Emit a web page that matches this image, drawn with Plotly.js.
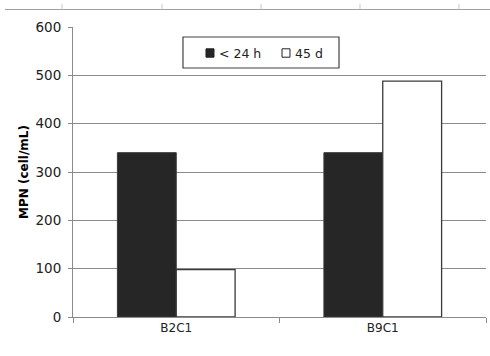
<!DOCTYPE html>
<html>
<head>
<meta charset="utf-8">
<script src="https://cdn.plot.ly/plotly-3.0.1.min.js"></script>
<style>
  html, body { margin: 0; padding: 0; background: #fff; }
  #chart { width: 490px; height: 356px; }
</style>
</head>
<body>
<div id="chart"></div>
<script>
// Sample groups and MPN counts per storage time
const samples = ['B2C1', 'B9C1'];
const mpnFresh = [340, 340];   // < 24 h
const mpnStored = [98, 488];   // 45 d
const seriesNames = ['< 24 h', '45 d'];
const yTicks = [0, 100, 200, 300, 400, 500, 600];

const font = 'DejaVu Sans, Verdana, sans-serif';
const gridGray = '#8a8a8a';
const edge = '#3a3a3a';
const fills = ['#262626', '#ffffff'];

const traces = [
  {
    type: 'bar', name: seriesNames[0], x: samples, y: mpnFresh,
    marker: { color: fills[0], line: { color: edge, width: 1 } }
  },
  {
    type: 'bar', name: seriesNames[1], x: samples, y: mpnStored,
    marker: { color: fills[1], line: { color: edge, width: 1.3 } }
  }
];

// Frame fragment along the top edge, with its small tick marks
const topLine = 1.0603;
const tickTop = 1.079;
const topTickX = [-0.0266, 0.2155, 0.4552, 0.6949, 0.9346];
const shapes = [{
  type: 'line', xref: 'paper', yref: 'paper',
  x0: -0.1646, x1: 1.02, y0: topLine, y1: topLine,
  line: { color: '#a0a0a0', width: 1.2 }
}].concat(topTickX.map(function (px) {
  return {
    type: 'line', xref: 'paper', yref: 'paper',
    x0: px, x1: px, y0: topLine, y1: tickTop,
    line: { color: '#c8c8c8', width: 1 }
  };
}));

// Boxed legend: frame, swatches and labels
const legendBox = { x0: 0.2663, x1: 0.6441, y0: 0.8586, y1: 0.9655 };
const legendRowY = 0.9103;
const swatchHalf = 0.0145;
const swatchX = [[0.3220, 0.3414], [0.5061, 0.5254]];
const labelX = [0.3480, 0.5320];

shapes.push({
  type: 'rect', xref: 'paper', yref: 'paper',
  x0: legendBox.x0, x1: legendBox.x1, y0: legendBox.y0, y1: legendBox.y1,
  fillcolor: '#ffffff', line: { color: '#404040', width: 1.2 }
});
seriesNames.forEach(function (name, i) {
  shapes.push({
    type: 'rect', xref: 'paper', yref: 'paper',
    x0: swatchX[i][0], x1: swatchX[i][1],
    y0: legendRowY - swatchHalf, y1: legendRowY + swatchHalf,
    fillcolor: fills[i], line: { color: '#222222', width: 1 }
  });
});
const annotations = seriesNames.map(function (name, i) {
  return {
    xref: 'paper', yref: 'paper', x: labelX[i], y: legendRowY,
    xanchor: 'left', yanchor: 'middle', showarrow: false,
    text: name, font: { family: font, size: 12.5, color: '#222222' }
  };
});

const layout = {
  width: 490, height: 356,
  margin: { l: 73, r: 4, t: 27, b: 39 },
  paper_bgcolor: '#ffffff', plot_bgcolor: '#ffffff',
  barmode: 'group', bargap: 0.43, bargroupgap: 0,
  font: { family: font, color: '#222222', size: 12 },
  showlegend: false,
  xaxis: {
    type: 'category', tickson: 'boundaries', ticks: 'outside', ticklen: 5,
    tickcolor: gridGray, showline: true, linecolor: gridGray, linewidth: 1,
    showgrid: false, tickfont: { family: font, size: 12, color: '#222222' },
    fixedrange: true
  },
  yaxis: {
    range: [0, 600], tickvals: yTicks, ticktext: yTicks.map(String),
    ticks: 'outside', ticklen: 4, tickcolor: gridGray, ticklabelstandoff: 4,
    showline: true, linecolor: gridGray, linewidth: 1,
    showgrid: true, gridcolor: gridGray, gridwidth: 1, zeroline: false,
    tickfont: { family: font, size: 13.5, color: '#222222' },
    title: { text: '<b>MPN (cell/mL)</b>', font: { family: font, size: 12, color: '#000000' }, standoff: 4 },
    fixedrange: true
  },
  shapes: shapes,
  annotations: annotations
};

Plotly.newPlot('chart', traces, layout, { displayModeBar: false, staticPlot: true });
</script>
</body>
</html>
